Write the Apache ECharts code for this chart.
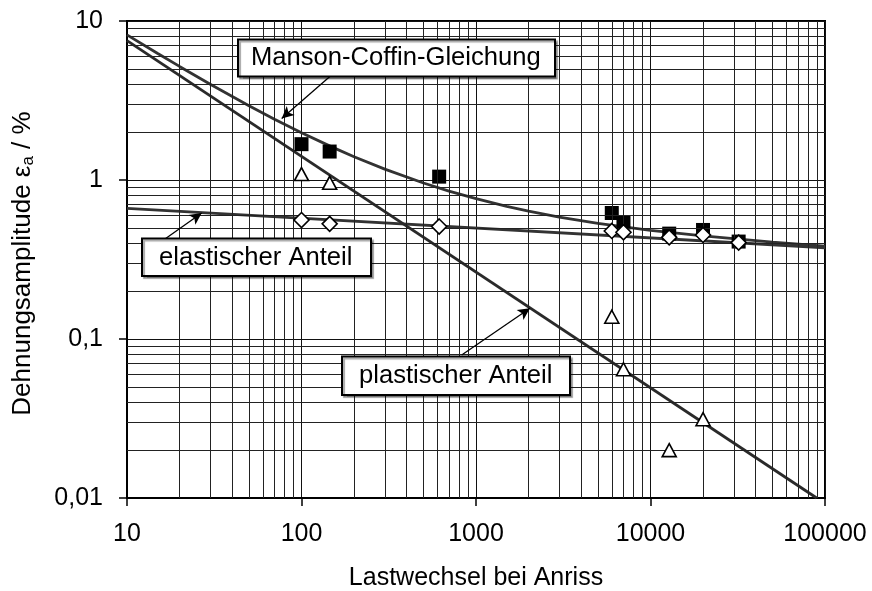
<!DOCTYPE html>
<html>
<head>
<meta charset="utf-8">
<script src="https://cdn.jsdelivr.net/npm/echarts@6/dist/echarts.min.js"></script>
<style>
html,body{margin:0;padding:0;background:#fff;}
#chart{width:872px;height:591px;}
</style>
</head>
<body>
<div id="chart"></div>
<script>
// ---- data ----
var testN        = [100, 145, 615, 6000, 7000, 12800, 20000, 32000];
var totalStrain  = [1.68, 1.51, 1.05, 0.62, 0.54, 0.46, 0.485, 0.41];
var elasticStrain= [0.56, 0.53, 0.51, 0.478, 0.469, 0.436, 0.451, 0.404];
var plasticN     = [100, 145, 6000, 7000, 12800, 20000];
var plasticStrain= [1.09, 0.96, 0.138, 0.0645, 0.020, 0.0313];

// Manson-Coffin curve
var curveN   = [10, 15, 20, 30, 50, 70, 100, 150, 200, 300, 500, 700, 1000, 1500, 2000, 3000, 5000, 10000, 20000, 50000, 100000];
var curveEps = [8.18, 6.25, 5.18, 4.00, 2.93, 2.41, 1.98, 1.61, 1.40, 1.17, 0.957, 0.852, 0.763, 0.683, 0.637, 0.585, 0.534, 0.482, 0.445, 0.407, 0.384];
// elastic and plastic straight lines (end points)
var elasticLineN   = [10, 100000];
var elasticLineEps = [0.664, 0.375];
var plasticLineN   = [10, 89600];
var plasticLineEps = [7.52, 0.01];

// axis ticks
var xTickValues = [10, 100, 1000, 10000, 100000];
var xTickLabels = ['10', '100', '1000', '10000', '100000'];
var yTickValues = [0.01, 0.1, 1, 10];
var yTickLabels = ['0,01', '0,1', '1', '10'];
var minorMultipliers = [2, 3, 4, 5, 6, 7, 8, 9];
var xDecades = [10, 100, 1000, 10000];
var yDecades = [0.01, 0.1, 1];

function zip(a, b) { return a.map(function (v, i) { return [v, b[i]]; }); }
function lookup(vals, labels, v) {
  for (var i = 0; i < vals.length; i++) {
    if (Math.abs(Math.log10(v) - Math.log10(vals[i])) < 1e-6) return labels[i];
  }
  return '';
}
var xMinor = [], yMinor = [];
xDecades.forEach(function (d) { minorMultipliers.forEach(function (m) { xMinor.push(+(d * m).toPrecision(6)); }); });
yDecades.forEach(function (d) { minorMultipliers.forEach(function (m) { yMinor.push(+(d * m).toPrecision(6)); }); });

var FONT = 'Arial, "Liberation Sans", sans-serif';
var chart = echarts.init(document.getElementById('chart'), null, {renderer: 'canvas'});

var gridMarkData = [];
xMinor.forEach(function (v) { gridMarkData.push({xAxis: v}); });
yMinor.forEach(function (v) { gridMarkData.push({yAxis: v}); });

var lineColor = '#333';

var option = {
  backgroundColor: '#fff',
  animation: false,
  grid: {
    left: 127, top: 21, right: 47, bottom: 93,
    containLabel: false, outerBoundsMode: 'none',
    show: true, borderColor: '#000', borderWidth: 2, backgroundColor: 'transparent'
  },
  xAxis: {
    type: 'log', logBase: 10, min: 10, max: 100000,
    name: 'Lastwechsel bei Anriss',
    nameLocation: 'middle', nameGap: 68,
    nameTextStyle: {fontSize: 25, color: '#000', fontFamily: FONT},
    axisLine: {show: true, lineStyle: {color: '#000', width: 2}},
    axisTick: {show: true, inside: false, length: 8, lineStyle: {color: '#000', width: 1.5}},
    minorTick: {show: false},
    splitLine: {show: true, lineStyle: {color: '#111', width: 1}},
    axisLabel: {
      fontSize: 25, color: '#000', fontFamily: FONT, margin: 24,
      formatter: function (v) { return lookup(xTickValues, xTickLabels, v); }
    }
  },
  yAxis: {
    type: 'log', logBase: 10, min: 0.01, max: 10,
    name: 'Dehnungsamplitude {g|ε}{s|a} / %',
    nameLocation: 'middle', nameGap: 90,
    nameTextStyle: {
      fontSize: 26, color: '#000', fontFamily: FONT,
      padding: [0, 0, 0, -8],
      rich: {
        g: {fontSize: 26, color: '#000', fontFamily: FONT},
        s: {fontSize: 17, color: '#000', fontFamily: FONT, padding: [12, 0, 0, 0]}
      }
    },
    axisLine: {show: true, lineStyle: {color: '#000', width: 2}},
    axisTick: {show: true, inside: false, length: 8, lineStyle: {color: '#000', width: 1.5}},
    minorTick: {show: false},
    splitLine: {show: true, lineStyle: {color: '#111', width: 1}},
    axisLabel: {
      fontSize: 25, color: '#000', fontFamily: FONT, margin: 24,
      formatter: function (v) { return lookup(yTickValues, yTickLabels, v); }
    }
  },
  series: [
    {
      name: 'grid', type: 'line', data: [], silent: true, z: 1,
      markLine: {
        silent: true, symbol: ['none', 'none'], animation: false,
        label: {show: false},
        lineStyle: {color: '#222', width: 1, type: 'solid'},
        emphasis: {disabled: true},
        data: gridMarkData
      }
    },
    {
      name: 'Manson-Coffin', type: 'line', z: 3, symbol: 'none',
      smooth: false,
      lineStyle: {color: lineColor, width: 2.8},
      data: zip(curveN, curveEps)
    },
    {
      name: 'elastisch', type: 'line', z: 3, symbol: 'none',
      lineStyle: {color: lineColor, width: 2.8},
      data: zip(elasticLineN, elasticLineEps)
    },
    {
      name: 'plastisch', type: 'line', z: 3, symbol: 'none',
      lineStyle: {color: '#2a2a2a', width: 2.8},
      data: zip(plasticLineN, plasticLineEps),
      markLine: {
        silent: true, symbol: ['none', 'arrow'], symbolSize: [9, 12], animation: false,
        label: {show: false},
        lineStyle: {color: '#000', width: 1.3, type: 'solid'},
        emphasis: {disabled: true},
        data: [
          [{coord: [146, 4.5]}, {coord: [77, 2.44]}],
          [{coord: [16.5, 0.4256]}, {coord: [26.8, 0.62]}],
          [{coord: [828, 0.0793]}, {coord: [2037, 0.156]}]
        ]
      }
    },
    {
      name: 'Gesamt', type: 'scatter', z: 4, symbol: 'rect', symbolSize: 14,
      itemStyle: {color: '#000', borderColor: '#000', borderWidth: 0, opacity: 1},
      data: zip(testN, totalStrain)
    },
    {
      name: 'elastischer Anteil', type: 'scatter', z: 5, symbol: 'diamond', symbolSize: 15,
      itemStyle: {color: '#fff', borderColor: '#000', borderWidth: 1.6, opacity: 1},
      data: zip(testN, elasticStrain)
    },
    {
      name: 'plastischer Anteil', type: 'scatter', z: 5, symbol: 'triangle', symbolSize: [14, 13],
      itemStyle: {color: '#fff', borderColor: '#000', borderWidth: 1.6, opacity: 1},
      data: zip(plasticN, plasticStrain)
    }
  ],
  graphic: [
    {type: 'rect', z: 100, shape: {x: 238, y: 39.5, width: 317, height: 37},
     style: {fill: '#fff', stroke: '#000', lineWidth: 2, shadowColor: 'rgba(0,0,0,0.35)', shadowOffsetX: 2, shadowOffsetY: 2, shadowBlur: 1}},
    {type: 'text', z: 101, x: 251, y: 58,
     style: {text: 'Manson-Coffin-Gleichung', fontSize: 25.6, fontFamily: FONT, fill: '#000', textVerticalAlign: 'middle', verticalAlign: 'middle'}},
    {type: 'rect', z: 100, shape: {x: 142, y: 238.5, width: 229, height: 37.5},
     style: {fill: '#fff', stroke: '#000', lineWidth: 2, shadowColor: 'rgba(0,0,0,0.35)', shadowOffsetX: 2, shadowOffsetY: 2, shadowBlur: 1}},
    {type: 'text', z: 101, x: 159, y: 257.5,
     style: {text: 'elastischer Anteil', fontSize: 25.6, fontFamily: FONT, fill: '#000', textVerticalAlign: 'middle', verticalAlign: 'middle'}},
    {type: 'rect', z: 100, shape: {x: 342, y: 356.5, width: 228, height: 38.5},
     style: {fill: '#fff', stroke: '#000', lineWidth: 2, shadowColor: 'rgba(0,0,0,0.35)', shadowOffsetX: 2, shadowOffsetY: 2, shadowBlur: 1}},
    {type: 'text', z: 101, x: 359, y: 376,
     style: {text: 'plastischer Anteil', fontSize: 25.6, fontFamily: FONT, fill: '#000', textVerticalAlign: 'middle', verticalAlign: 'middle'}}
  ]
};
chart.setOption(option);
</script>
</body>
</html>
